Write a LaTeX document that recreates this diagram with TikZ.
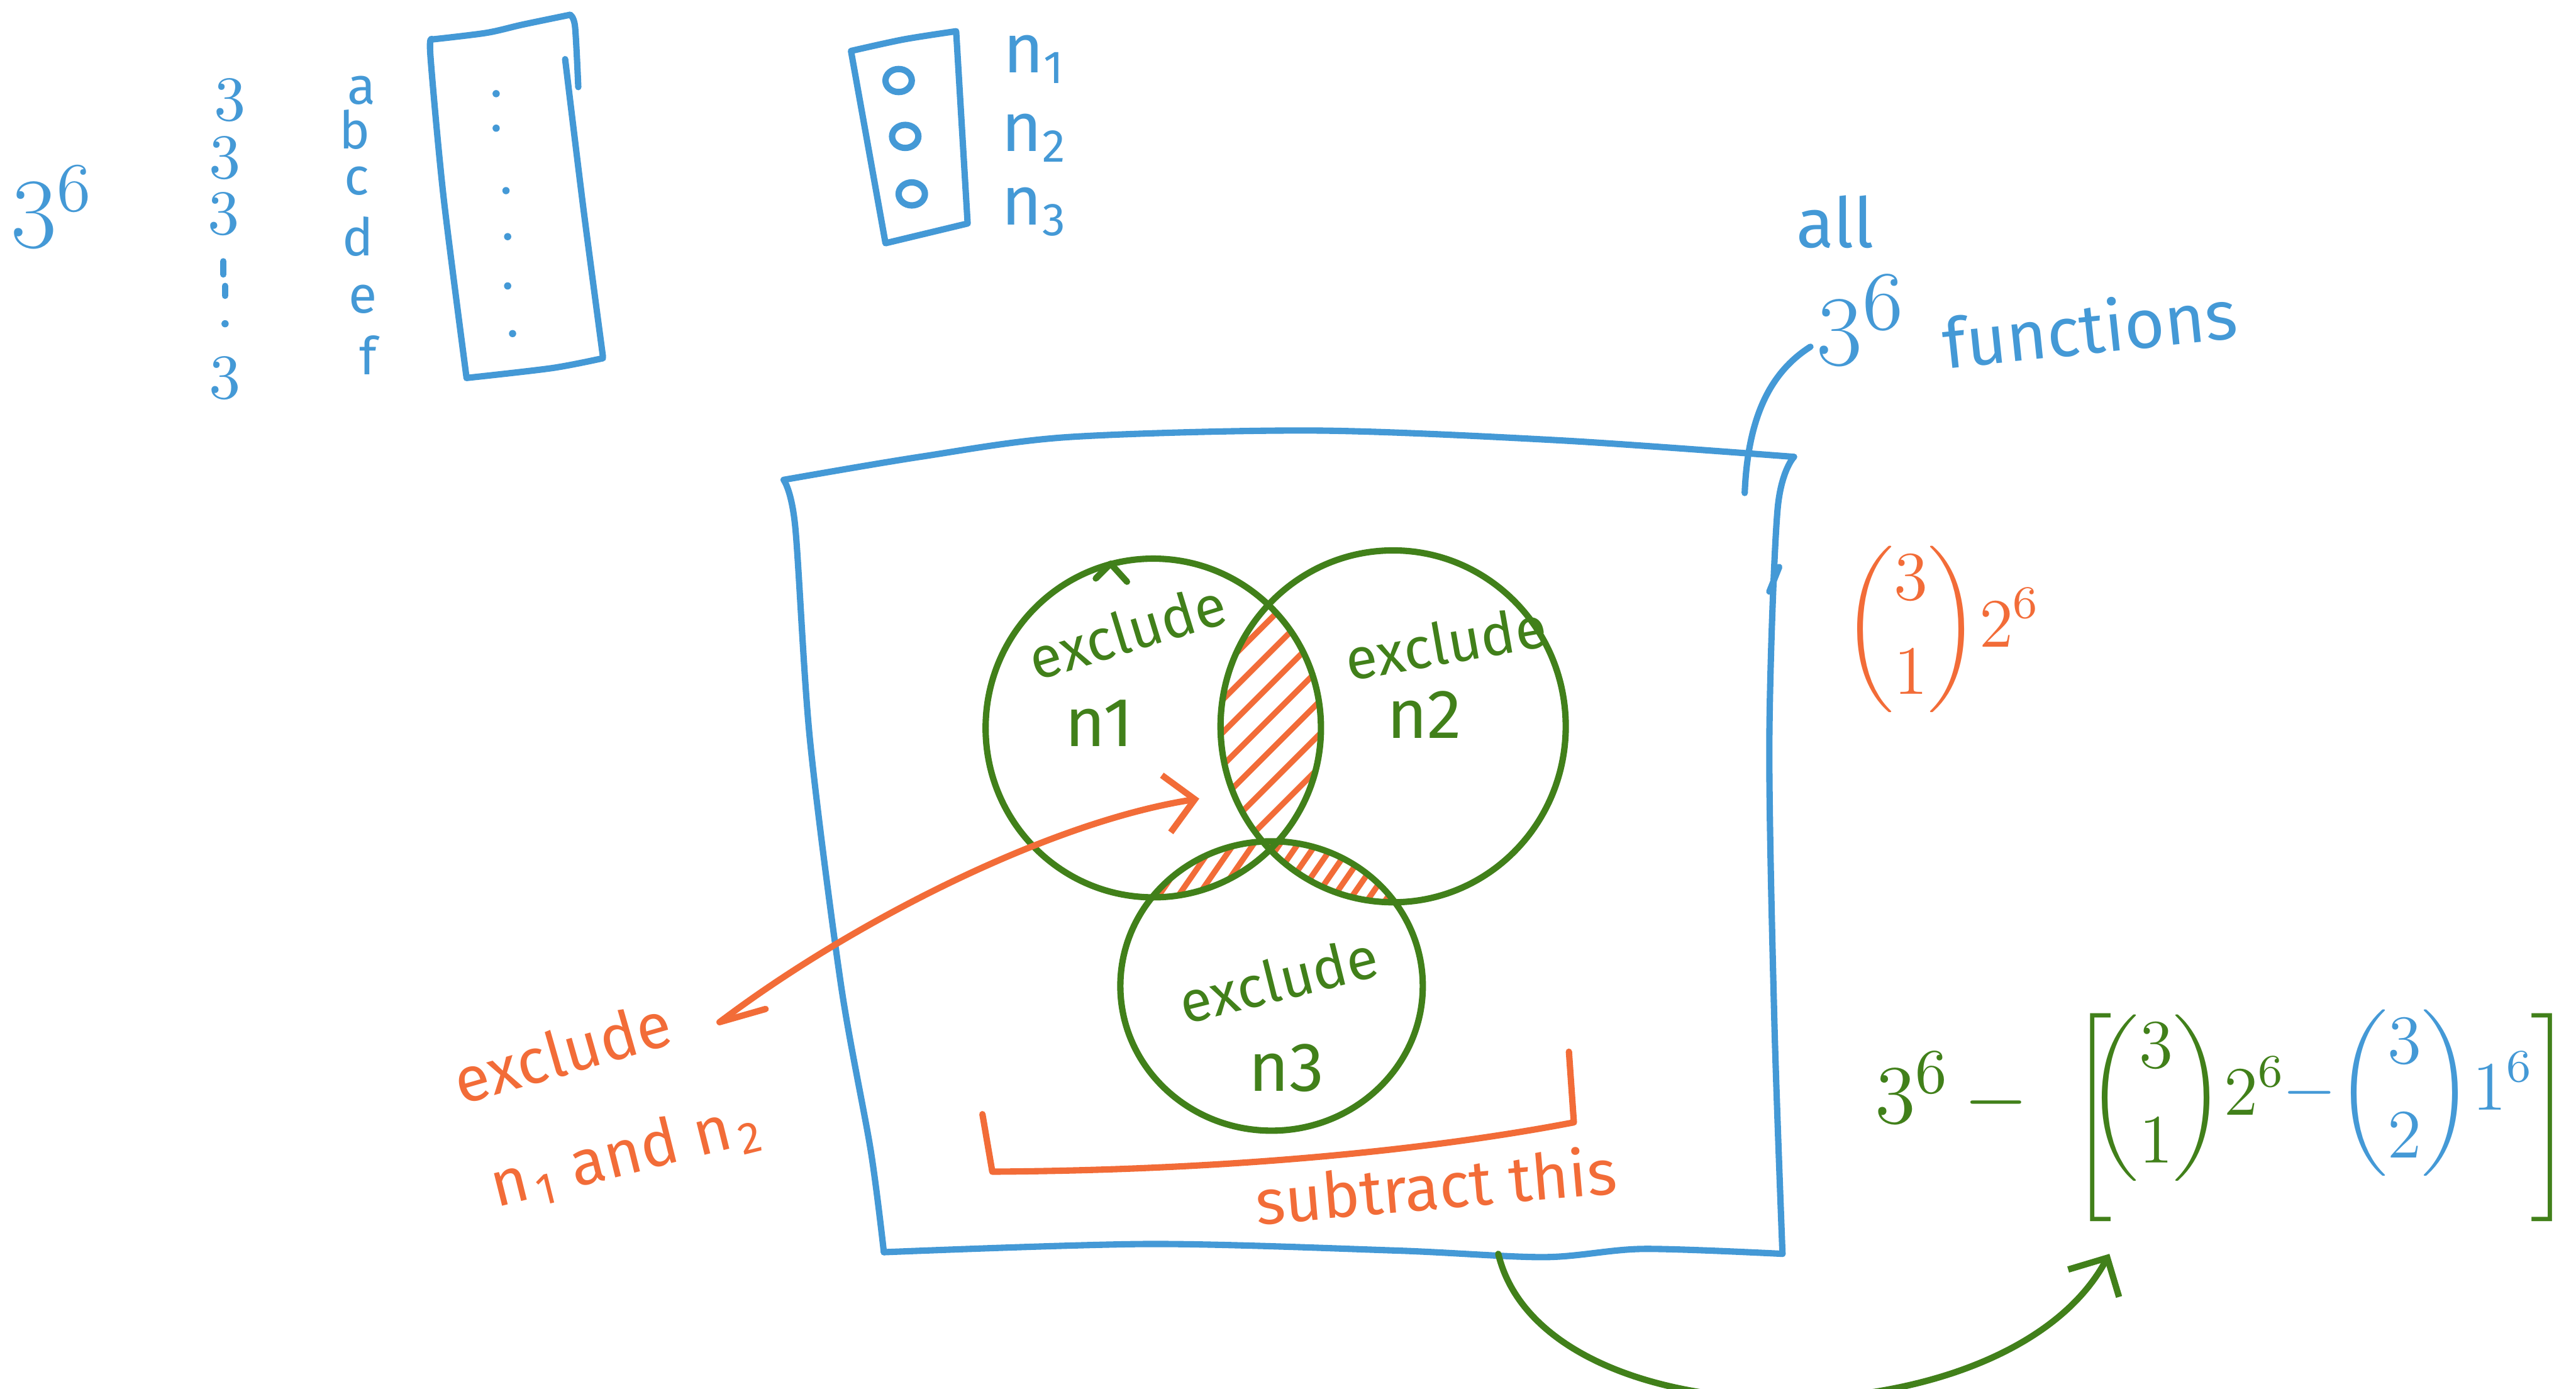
\documentclass[tikz,border=0pt]{standalone}
\usepackage{amsmath}
\usepackage{fontspec}
\setmainfont{Fira Sans}
\usetikzlibrary{arrows.meta}

\definecolor{penblue}{HTML}{4499D6}
\definecolor{pengreen}{HTML}{41801A}
\definecolor{penorange}{HTML}{F26C38}

\begin{document}
\begin{tikzpicture}[x=0.01cm, y=-0.01cm, line width=1.1pt, line cap=round, line join=round,
    every node/.style={inner sep=1pt},
    blueink/.style={penblue}, greenink/.style={pengreen}, orangeink/.style={penorange},
    hatch/.style={penorange, line width=1pt},
    penarrow/.style={-{Straight Barb[length=5pt, width=10pt]}}]
  \useasboundingbox (0,0) rectangle (1568,845);
  \def\fs#1{\fontsize{#1}{#1}\selectfont}

  % domain side
  \node[blueink, font=\fs{18}] (count) at (32,126) {$3^6$};
  \foreach \k/\x/\y in {1/140/61, 2/137/96, 3/136/130, 6/137/230}
    \node[blueink, font=\fs{11}, inner sep=0pt] (three\k) at (\x,\y) {$3$};
  \draw[blueink] (136,159) -- (136,167);
  \draw[blueink] (137,174) -- (137,180);
  \fill[blueink] (137,197) circle (2.2);
  \foreach \l/\x/\y in {a/220/55, b/216/79, c/217/110, d/218/144, e/221/182, f/224/216}
    \node[blueink, font=\fs{9}, inner sep=0pt] (dom-\l) at (\x,\y) {\l};
  \draw[blueink] plot[smooth, tension=0.5] coordinates {(263,24) (296,20) (318,15) (347,9)};
  \draw[blueink] plot[smooth, tension=0.5] coordinates {(347,9) (350,16) (352,53)};
  \draw[blueink] plot[smooth, tension=0.5] coordinates {(344,36) (355,126) (367,217)};
  \draw[blueink] plot[smooth, tension=0.5] coordinates {(367,218) (336,224) (284,230)};
  \draw[blueink] plot[smooth, tension=0.5] coordinates {(284,230) (270,120) (262,34) (263,24)};
  \foreach \x/\y in {302/57, 302/78, 308/116, 309/144, 309/174, 312/203}
    \fill[blueink] (\x,\y) circle (2.2);

  % codomain
  \draw[blueink] plot[smooth, tension=0.5] coordinates {(518,31) (550,24) (582,19)}
    -- (589,136) -- (539,148) -- cycle;
  \foreach \k/\y/\ly in {1/49/36, 2/83/84, 3/118/129} {
    \draw[blueink] (547+\k*4-4,\y) ellipse [x radius=0.08cm, y radius=0.07cm];
    \node[blueink, font=\fs{12}] (cod\k) at (630,\ly) {n\textsubscript{\k}};
  }

  % all functions
  \draw[blueink] plot[smooth, tension=0.5] coordinates {(477,292) (560,278) (650,266) (800,262) (950,268) (1092,278)};
  \draw[blueink] plot[smooth, tension=0.5] coordinates {(1092,278) (1082,310) (1077,450) (1080,620) (1085,763)};
  \draw[blueink] plot[smooth, tension=0.5] coordinates {(1085,763) (1000,760) (940,765) (850,761) (700,757) (538,762)};
  \draw[blueink] plot[smooth, tension=0.5] coordinates {(538,762) (530,700) (512,600) (493,450) (484,320) (477,292)};
  \draw[blueink] (1083,345) -- (1077,360);
  \node[blueink, font=\fs{12}] (allw) at (1117,135) {all};
  \node[blueink, font=\fs{19}] (allpow) at (1133,195) {$3^6$};
  \node[blueink, font=\fs{12}, rotate=6] (funw) at (1272,199) {functions};
  \coordinate (boxtop) at (1062,300);
  \coordinate (allfoot) at (1102,211);
  \draw[blueink] (boxtop) .. controls (1064,250) and (1080,225) .. (allfoot);

  % venn
  \coordinate (cA) at (702,443);
  \coordinate (cB) at (848,442);
  \coordinate (cC) at (774,600);
  \begin{scope}
    \clip (cA) ellipse [x radius=1.02cm, y radius=1.03cm];
    \clip (cB) ellipse [x radius=1.05cm, y radius=1.07cm];
    \foreach \k in {0,...,12}
      \draw[hatch] (690,420+\k*20) -- (860,250+\k*20);
  \end{scope}
  \begin{scope}
    \clip (cA) ellipse [x radius=1.02cm, y radius=1.03cm];
    \clip (cC) ellipse [x radius=0.92cm, y radius=0.88cm];
    \foreach \k in {0,...,14}
      \draw[hatch] (640+\k*12,570) -- (685+\k*12,505);
  \end{scope}
  \begin{scope}
    \clip (cB) ellipse [x radius=1.05cm, y radius=1.07cm];
    \clip (cC) ellipse [x radius=0.92cm, y radius=0.88cm];
    \foreach \k in {0,...,14}
      \draw[hatch] (740+\k*11,570) -- (785+\k*11,505);
  \end{scope}
  \draw[greenink] (cA) ellipse [x radius=1.02cm, y radius=1.03cm];
  \draw[greenink] (cB) ellipse [x radius=1.05cm, y radius=1.07cm];
  \draw[greenink] (cC) ellipse [x radius=0.92cm, y radius=0.88cm];
  \draw[greenink] (667,352) -- (676,343) -- (686,354);
  \node[greenink, font=\fs{10}, rotate=17] (exA) at (686,384) {exclude};
  \node[greenink, font=\fs{12}] (nA) at (669,440) {n1};
  \node[greenink, font=\fs{10}, rotate=10] (exB) at (880,391) {exclude};
  \node[greenink, font=\fs{12}] (nB) at (867,435) {n2};
  \node[greenink, font=\fs{10}, rotate=14] (exC) at (778,596) {exclude};
  \node[greenink, font=\fs{12}] (nC) at (783,650) {n3};

  % pair label
  \node[orangeink, font=\fs{11}, rotate=16] (exAB) at (342,640) {exclude};
  \node[orangeink, font=\fs{11}, rotate=14] (nAB) at (381,703) {n\kern1pt\textsubscript{1} and n\kern1pt\textsubscript{2}};
  \coordinate (pairtail) at (438,622);
  \coordinate (pairtip) at (730,486);
  \draw[orangeink] (466,614) -- (pairtail);
  \draw[orangeink, penarrow] (pairtail) .. controls (520,560) and (640,500) .. (pairtip);

  % subtract
  \draw[orangeink] (598,678) -- (604,713) .. controls (760,712) and (880,698) .. (958,683) -- (955,640);
  \node[orangeink, font=\fs{11}, rotate=5] (subw) at (874,721) {subtract this};
  \node[orangeink, font=\fs{12}] (pairs) at (1182,383) {$\displaystyle\binom{3}{1}2^6$};

  % result
  \node[greenink, font=\fs{15}] (res0) at (1188,664) {$3^6\,-$};
  \node[greenink, font=\fs{13}] (lbr) at (1273,680) {$\Bigg[$};
  \node[greenink, font=\fs{12}] (res1) at (1331,668) {$\displaystyle\binom{3}{1}2^6$};
  \node[blueink, font=\fs{12}] (res2) at (1466,665) {$\displaystyle-\binom{3}{2}1^6$};
  \node[greenink, font=\fs{13}] (rbr) at (1553,680) {$\Bigg]$};
  \coordinate (boxfoot) at (912,763);
  \coordinate (restip) at (1284,763);
  \draw[greenink, penarrow] (boxfoot) .. controls (940,880) and (1221,880) .. (restip);
\end{tikzpicture}
\end{document}
